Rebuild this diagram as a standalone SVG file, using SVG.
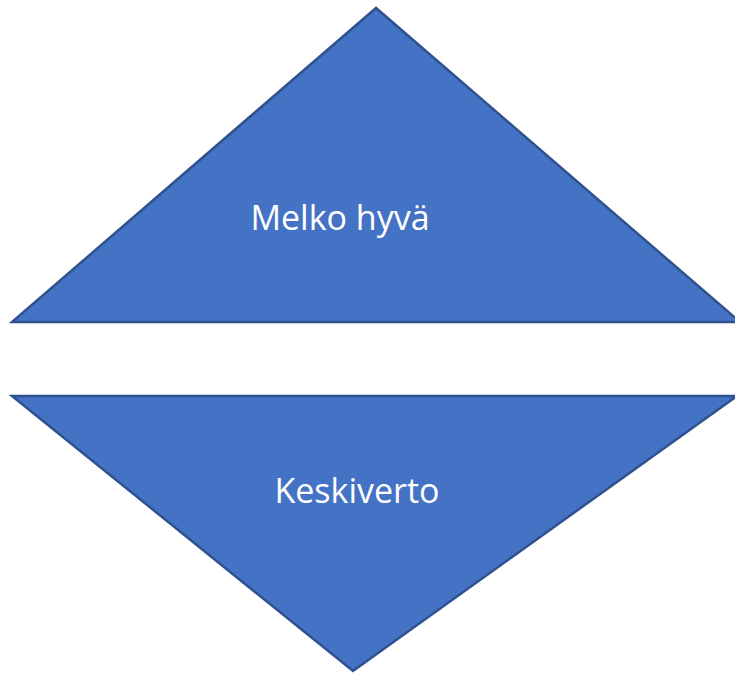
<svg xmlns="http://www.w3.org/2000/svg" width="735" height="673" viewBox="0 0 735 673">
<style>
.shape{fill:#4472C4;stroke:#2F528F;stroke-width:2.5;stroke-linejoin:miter}
.label{fill:#FFFFFF;font-family:"Open Sans","Noto Sans",sans-serif;font-size:34px;text-anchor:middle}
</style>
<rect width="735" height="673" fill="#FFFFFF"/>
<g id="node-melko-hyva">
<polygon class="shape" points="376,8 12,322 740,322"/>
<text class="label" x="340" y="230">Melko hyvä</text>
</g>
<g id="node-keskiverto">
<polygon class="shape" points="12,396 737,396 353,671"/>
<text class="label" x="357" y="503">Keskiverto</text>
</g>
<g id="connectors"></g>
</svg>
